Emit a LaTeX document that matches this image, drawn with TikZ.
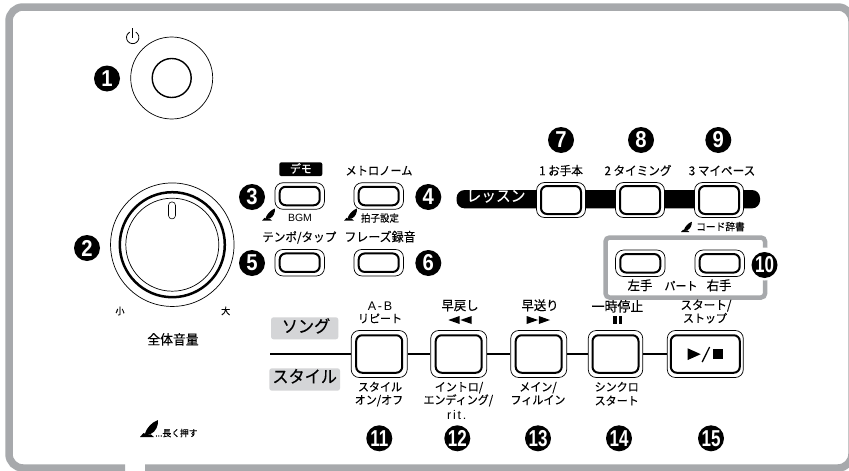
\documentclass[tikz,border=0pt]{standalone}
\usepackage{fontspec}
\usepackage{graphicx}
\setmainfont[FakeBold=0.18,FakeStretch=0.95]{Noto Sans CJK JP}
\newfontfamily\strongjp[FakeBold=0.45,FakeStretch=0.95]{Noto Sans CJK JP}
\newfontfamily\latinlbl{Liberation Sans}
\newfontfamily\latinwide[LetterSpace=14]{Liberation Sans}
\newfontfamily\digfont{Liberation Sans}
\definecolor{band}{HTML}{A7A9AC}
\definecolor{tag}{HTML}{D4D5D7}
\newcommand{\fs}[1]{\fontsize{#1}{#1}\selectfont}
\newcommand{\fig}[1]{\scalebox{.88}[1]{#1}}
\newcommand{\bignum}[1]{\scalebox{.74}[1]{#1}}
\tikzset{
  x=1pt,y=-1pt,
  badge/.style={circle,fill=black,text=white,minimum size=26,inner sep=0,font=\digfont\bfseries\fs{23}},
  lbl/.style={inner sep=0,text height=.82em,text depth=.12em,text=black,font=\fs{#1}},
  lbl/.default=12,
  outerbtn/.style={draw=black,fill=white,line width=.7,rounded corners=8,inner sep=0},
  innerbtn/.style={draw=black,fill=white,line width=2,rounded corners=6,inner sep=0},
  thinring/.style={draw=black,line width=.7,circle,inner sep=0},
  tagbox/.style={fill=tag,rounded corners=2.5,inner sep=0},
  pics/pen/.style={code={
    \fill (0,17) -- (3.5,13) -- (6,14) -- (11,14.5) -- (14,17) -- cycle;
    \fill (5,13.5) .. controls (6.5,8) and (12,2) .. (18,0) .. controls (18.5,5) and (16,12) .. (10.5,14) .. controls (9,14.3) and (8,13.5) .. (7.5,15) -- cycle;
  }},
}
\newcommand{\btn}[7]{%
  \node[outerbtn,minimum width=#4,minimum height=#5] (#1) at (#2,#3) {};
  \node[innerbtn,minimum width=#6,minimum height=#7] (#1i) at (#1.center) {};
}
\newcommand{\smallbtn}[3]{\btn{#1}{#2}{#3}{49.5}{26.5}{40}{18.5}}
\newcommand{\longbtn}[2]{\btn{#1}{#2}{354}{56}{47}{46}{37.5}}
\begin{document}
\begin{tikzpicture}
\useasboundingbox (0,0) rectangle (849,471);
\fill[white] (0,0) rectangle (849,471);
% frame
\draw[band,line width=7.5,rounded corners=14] (125,468) -- (9,468) -- (9,7) -- (852,7) -- (852,468) -- (145,468);

% power
\node[thinring,minimum size=82] (pwr) at (171.7,78) {};
\node[circle,draw=black,line width=1.4,minimum size=39,inner sep=0] (pwrb) at (pwr.center) {};
\node[badge] (n1) at (107,78.5) {\fig{1}};
\draw[line width=.8] (135.8,32.1) arc[start angle=-60,end angle=240,radius=6.2];
\draw[line width=.9] (132.7,28.3) -- (132.7,38);

% volume knob
\node[thinring,minimum size=123.5] (kn) at (172.3,244.7) {};
\node[circle,draw=black,line width=2.5,minimum size=105,inner sep=0] (kn2) at (kn.center) {};
\node[thinring,minimum size=93] (kn3) at (kn.center) {};
\node[draw=black,line width=.6,rounded corners=3.4,minimum width=7,minimum height=17,inner sep=0] (slot) at (172,210.4) {};
\node[badge] (n2) at (87,248) {\fig{2}};
\node[lbl=9.5] (small) at (120,311) {小};
\node[lbl=9.5] (large) at (225.7,311) {大};
\node[lbl=13.5] (vol) at (173,341) {全体音量};
\pic at (140,420) {pen};
\node[lbl=9.2,anchor=west] (hold) at (155,433) {...長く押す};

% demo / metronome
\node[fill=black,rounded corners=2,minimum width=43,minimum height=13.7,inner sep=0] (demo) at (300.8,169.2) {};
\node[lbl=11.5,text=white] (demot) at (300.8,169.5) {\strongjp\fs{11.5}デモ};
\node[lbl=11.8] (metro) at (379,171.5) {メトロノーム};
\smallbtn{b3}{299.7}{196}
\smallbtn{b4}{378.7}{196}
\smallbtn{b5}{299.7}{262.7}
\smallbtn{b6}{378.7}{262.7}
\node[badge] (n3) at (252,197) {\fig{3}};
\node[badge] (n4) at (428.3,197) {\fig{4}};
\node[badge] (n5) at (252,263) {\fig{5}};
\node[badge] (n6) at (428.3,263) {\fig{6}};
\pic[scale=.72] at (262,208.5) {pen};
\pic[scale=.72] at (344,208.5) {pen};
\node[lbl=10.5] (bgm) at (300,218.3) {\latinlbl\fs{10.5}BGM};
\node[lbl=10] (beat) at (380,218.3) {拍子設定};
\node[lbl=12.2] (tempo) at (299.3,238) {テンポ/タップ};
\node[lbl=12.6] (phrase) at (380,238) {フレーズ録音};

% lesson
\node[fill=black,rounded corners=8,minimum width=303.5,minimum height=18.3,inner sep=0] (bar) at (608.3,199.2) {};
\node[lbl=15.5,text=white] (lesson) at (496,198) {レッスン};
\btn{b7}{561}{200}{49}{35}{40}{28}
\btn{b8}{640}{200}{49}{35}{40}{28}
\btn{b9}{719}{200}{49}{35}{40}{28}
\node[badge] (n7) at (561,140) {\fig{7}};
\node[badge] (n8) at (641,140) {\fig{8}};
\node[badge] (n9) at (718.3,140) {\fig{9}};
\node[lbl=12.2] (l7) at (561,171.7) {1 お手本};
\node[lbl=12.2] (l8) at (638,171.7) {2 タイミング};
\node[lbl=12.2] (l9) at (722,171.7) {3 マイペース};
\pic[scale=.6] at (681,221.8) {pen};
\node[lbl=10.2] (chord) at (720.5,227) {コード辞書};

% part
\node[draw=band,line width=4.5,rounded corners=4,minimum width=159.5,minimum height=60,inner sep=0] (part) at (685.3,267.5) {};
\smallbtn{bl}{640.3}{263.3}
\smallbtn{br}{719.7}{263.3}
\node[lbl=13] (ll) at (640,286.7) {左手};
\node[lbl=11.6] (lp) at (681,286.7) {パート};
\node[lbl=13] (lr) at (719,286.7) {右手};
\node[circle,fill=white,minimum size=33,inner sep=0] (n10w) at (764.5,264) {};
\node[badge] (n10) at (764.5,265) {\bignum{10}};

% transport
\coordinate (lineL) at (270,354);
\node[tagbox,minimum width=67.3,minimum height=22] (song) at (304.7,328.3) {};
\node[lbl=17] (songt) at (306,329) {ソング};
\node[tagbox,minimum width=70.7,minimum height=22.4] (style) at (304.7,379.5) {};
\node[lbl=17] (stylet) at (304.7,379.3) {スタイル};
\longbtn{b11}{379.2}
\longbtn{b12}{458.7}
\longbtn{b13}{538.7}
\btn{b14}{615.5}{354}{54.5}{47}{46}{37.5}
\btn{b15}{705.3}{354}{76}{47}{69}{37.5}
\draw[line width=1.8] (lineL) -- (b11);
\draw[line width=1.8] (b11) -- (b12);
\draw[line width=1.8] (b12) -- (b13);
\draw[line width=1.8] (b13) -- (b14);
\draw[line width=1.8] (b14) -- (b15);
% play/stop
\fill (687.7,348.3) -- (700.7,354.2) -- (687.7,360) -- cycle;
\draw[line width=1.3] (709.6,347) -- (702.2,362);
\fill (713.3,349.3) rectangle (723.3,359.3);

\node[lbl=12.5] (ab) at (380,306.7) {\latinwide\fs{12.5}A-B};
\node[lbl=11.6] (rep) at (380,319.3) {リピート};
\node[lbl=13] (rew) at (460,306.7) {早戻し};
\fill (448.3,320) -- (459.6,316) -- (459.6,324) -- cycle;
\fill (460.4,320) -- (471.7,316) -- (471.7,324) -- cycle;
\node[lbl=13] (ff) at (540,306.7) {早送り};
\fill (526.7,316) -- (538,320) -- (526.7,324) -- cycle;
\fill (538.8,316) -- (550,320) -- (538.8,324) -- cycle;
\node[lbl=13.6] (pause) at (617.5,308) {一時停止};
\fill (613.3,316) rectangle (617,324.3);
\fill (618.6,316) rectangle (622.3,324.3);
\node[lbl=12.2] (st1) at (706,306) {スタート/};
\node[lbl=11.6] (st2) at (705,319) {ストップ};

\node[lbl=11.6] (s1) at (380,387.7) {スタイル};
\node[lbl=11.6] (s2) at (379,400.7) {オン/オフ};
\node[lbl=11.6] (i1) at (459,387.7) {イントロ/};
\node[lbl=11.6] (i2) at (458.3,400.7) {エンディング/};
\node[lbl=12.5] (i3) at (456.7,415.5) {\latinwide\fs{12.5}rit.};
\node[lbl=11.6] (m1) at (538,387.7) {メイン/};
\node[lbl=11.6] (m2) at (538,400.7) {フィルイン};
\node[lbl=11.6] (y1) at (616.7,387.7) {シンクロ};
\node[lbl=11.6] (y2) at (616.7,401.5) {スタート};

\node[badge] (n11) at (379.3,438.3) {\bignum{11}};
\node[badge] (n12) at (457.3,438.3) {\bignum{12}};
\node[badge] (n13) at (538,438.3) {\bignum{13}};
\node[badge] (n14) at (619,438.3) {\bignum{14}};
\node[badge] (n15) at (711,438.3) {\bignum{15}};
\end{tikzpicture}
\end{document}
